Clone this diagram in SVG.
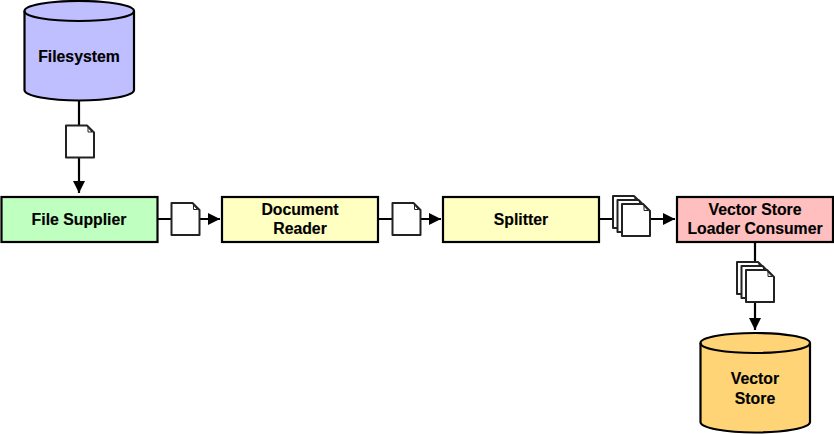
<svg xmlns="http://www.w3.org/2000/svg" width="834" height="434" viewBox="0 0 834 434">
<style>
text{font-family:"Liberation Sans",Arial,Helvetica,sans-serif;font-weight:700;font-size:15.8px;fill:#000;text-anchor:middle;stroke:#000;stroke-width:.15px}
.s{stroke:#000;stroke-width:2.200}
.c{stroke:#000;stroke-width:2.200;fill:none}
.d{fill:#fff;stroke:#222;stroke-width:2;stroke-linejoin:round}
.f{fill:#fff;stroke:#222;stroke-width:1}
</style>
<defs>
<marker id="a" markerUnits="userSpaceOnUse" markerWidth="14" markerHeight="12" refX="12" refY="6" orient="auto"><path d="M0 0L12 6L0 12z" fill="#000"/></marker>
<g id="doc"><path class="d" d="M0 0H21L28 7V32H0z"/><path class="f" d="M22 2L26 6.500H22z"/></g>
<g id="docs"><use href="#doc" x="0" y="0"/><use href="#doc" x="4.500" y="4"/><use href="#doc" x="9" y="8"/></g>
</defs>
<g id="connectors">
<path class="c" d="M79 101V193" marker-end="url(#a)"/>
<path class="c" d="M158 219H220" marker-end="url(#a)"/>
<path class="c" d="M379 219H441" marker-end="url(#a)"/>
<path class="c" d="M600 219H675" marker-end="url(#a)"/>
<path class="c" d="M755 242V330" marker-end="url(#a)"/>
</g>
<use href="#doc" x="66" y="125.500"/>
<use href="#doc" x="171.500" y="203"/>
<use href="#doc" x="392.500" y="203"/>
<use href="#docs" x="613" y="196"/>
<use href="#docs" x="737" y="262"/>
<g id="filesystem"><path class="s" fill="#bfbfff" d="M24.500 11C24.500 5 50 1 79 1S134 5 134 11V90C134 96 108 100.500 79 100.500S24.500 96 24.500 90z"/><path class="c" d="M24.500 11C24.500 17 50 21 79 21S134 17 134 11"/><text x="79" y="61.500">Filesystem</text></g>
<g id="file-supplier"><rect class="s" fill="#bfffbf" x="1.500" y="197" width="156" height="45"/><text x="79" y="224.500">File Supplier</text></g>
<g id="document-reader"><rect class="s" fill="#ffffc2" x="222" y="197" width="156" height="45"/><text x="300" y="214.500">Document</text><text x="300" y="234">Reader</text></g>
<g id="splitter"><rect class="s" fill="#ffffc2" x="443" y="197" width="156" height="45"/><text x="521" y="224.500">Splitter</text></g>
<g id="consumer"><rect class="s" fill="#ffbfbf" x="677" y="197" width="156" height="45"/><text x="755" y="214.500">Vector Store</text><text x="755" y="234">Loader Consumer</text></g>
<g id="vector-store"><path class="s" fill="#ffd476" d="M700.500 343C700.500 337 726 333 755 333S810 337 810 343V422C810 428 784 432.500 755 432.500S700.500 428 700.500 422z"/><path class="c" d="M700.500 343C700.500 349 726 353 755 353S810 349 810 343"/><text x="755" y="384">Vector</text><text x="755" y="403.500">Store</text></g>
</svg>
